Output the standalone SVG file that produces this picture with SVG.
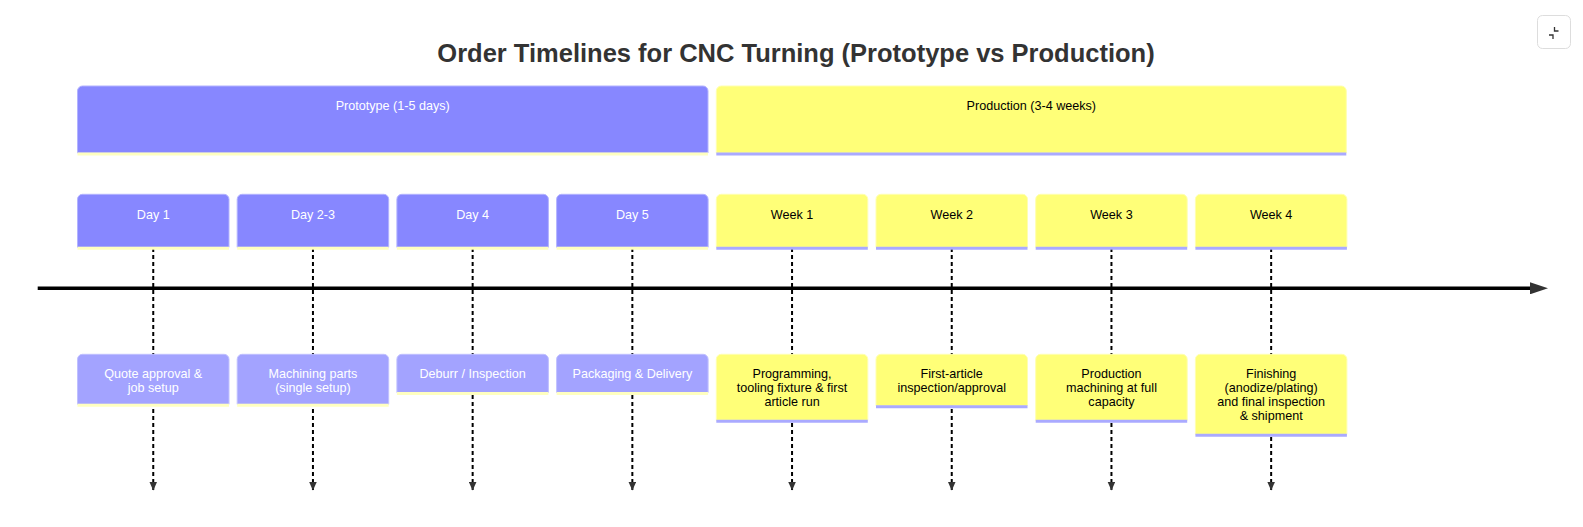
<svg xmlns="http://www.w3.org/2000/svg" width="1583" height="527" viewBox="0 0 1583 527">
<style>
  text { font-family: "Liberation Sans", Arial, sans-serif; font-size: 12.6px; text-anchor: middle; }
  .title { font-size: 25.5px; font-weight: bold; fill: #333333; }
  .s0 { fill: #8787ff; stroke: #b3b3ff; stroke-width: 1; }
  .s0e { fill: #a3a3ff; stroke: #c0c0ff; stroke-width: 1; }
  .s1 { fill: #ffff78; stroke: #ffffb0; stroke-width: 1; }
  .l0 { stroke: #ffffc0; stroke-width: 3; }
  .l1 { stroke: #aaaaff; stroke-width: 3; }
  .t0 { fill: #ffffff; }
  .t1 { fill: #000000; }
  .dash { stroke: #000000; stroke-width: 2; stroke-dasharray: 4 3; fill: none; }
  .axis { stroke: #000000; stroke-width: 3.6; fill: none; }
</style>
<defs>
  <marker id="axisArrow" markerWidth="18" markerHeight="12" refX="1" refY="6" orient="auto" markerUnits="userSpaceOnUse" viewBox="0 0 18 12">
    <path d="M0 0 L18 6 L0 12 Z" fill="#333333"/>
  </marker>
  <marker id="dashArrow" markerWidth="9" markerHeight="8" refX="8.5" refY="4" orient="auto" markerUnits="userSpaceOnUse" viewBox="0 0 9 8">
    <path d="M0 0 L9 4 L0 8 Z" fill="#333333"/>
  </marker>
</defs>
<rect x="0" y="0" width="1583" height="527" fill="#ffffff"/>

<text class="title" x="796" y="62">Order Timelines for CNC Turning (Prototype vs Production)</text>

<g id="fullscreen-button">
  <rect x="1537.5" y="15.5" width="33" height="33" rx="5" fill="#ffffff" stroke="#dddddd"/>
  <path d="M1554.5 27 v4 h4 M1549 35 h4 v4" stroke="#333333" stroke-width="1.3" fill="none"/>
</g>

<g id="connectors">
  <line class="axis" x1="37.7" y1="288.3" x2="1531" y2="288.3" marker-end="url(#axisArrow)"/>
  <line class="dash" x1="153.25" y1="248" x2="153.25" y2="490" marker-end="url(#dashArrow)"/>
  <line class="dash" x1="312.95" y1="248" x2="312.95" y2="490" marker-end="url(#dashArrow)"/>
  <line class="dash" x1="472.65" y1="248" x2="472.65" y2="490" marker-end="url(#dashArrow)"/>
  <line class="dash" x1="632.35" y1="248" x2="632.35" y2="490" marker-end="url(#dashArrow)"/>
  <line class="dash" x1="792.05" y1="248" x2="792.05" y2="490" marker-end="url(#dashArrow)"/>
  <line class="dash" x1="951.75" y1="248" x2="951.75" y2="490" marker-end="url(#dashArrow)"/>
  <line class="dash" x1="1111.45" y1="248" x2="1111.45" y2="490" marker-end="url(#dashArrow)"/>
  <line class="dash" x1="1271.15" y1="248" x2="1271.15" y2="490" marker-end="url(#dashArrow)"/>
</g>

<!-- Sections -->
<g id="section-prototype">
  <path class="s0" d="M77.5 153 V91 a5 5 0 0 1 5 -5 H703 a5 5 0 0 1 5 5 V153 Z"/>
  <line class="l0" x1="77.5" y1="154" x2="708" y2="154"/>
  <text class="t0" x="392.75" y="109.5">Prototype (1-5 days)</text>
</g>
<g id="section-production">
  <path class="s1" d="M716.3 153 V91 a5 5 0 0 1 5 -5 H1341.3 a5 5 0 0 1 5 5 V153 Z"/>
  <line class="l1" x1="716.3" y1="154" x2="1346.3" y2="154"/>
  <text class="t1" x="1031.3" y="109.5">Production (3-4 weeks)</text>
</g>

<!-- Periods -->
<g id="period-day1">
  <path class="s0" d="M77.5 247.3 V199.3 a5 5 0 0 1 5 -5 H224 a5 5 0 0 1 5 5 V247.3 Z"/>
  <line class="l0" x1="77.5" y1="248.3" x2="229" y2="248.3"/>
  <text class="t0" x="153.25" y="218.5">Day 1</text>
</g>
<g id="period-day2-3">
  <path class="s0" d="M237.2 247.3 V199.3 a5 5 0 0 1 5 -5 H383.7 a5 5 0 0 1 5 5 V247.3 Z"/>
  <line class="l0" x1="237.2" y1="248.3" x2="388.7" y2="248.3"/>
  <text class="t0" x="312.95" y="218.5">Day 2-3</text>
</g>
<g id="period-day4">
  <path class="s0" d="M396.9 247.3 V199.3 a5 5 0 0 1 5 -5 H543.4 a5 5 0 0 1 5 5 V247.3 Z"/>
  <line class="l0" x1="396.9" y1="248.3" x2="548.4" y2="248.3"/>
  <text class="t0" x="472.65" y="218.5">Day 4</text>
</g>
<g id="period-day5">
  <path class="s0" d="M556.6 247.3 V199.3 a5 5 0 0 1 5 -5 H703.1 a5 5 0 0 1 5 5 V247.3 Z"/>
  <line class="l0" x1="556.6" y1="248.3" x2="708.1" y2="248.3"/>
  <text class="t0" x="632.35" y="218.5">Day 5</text>
</g>
<g id="period-week1">
  <path class="s1" d="M716.3 247.3 V199.3 a5 5 0 0 1 5 -5 H862.8 a5 5 0 0 1 5 5 V247.3 Z"/>
  <line class="l1" x1="716.3" y1="248.3" x2="867.8" y2="248.3"/>
  <text class="t1" x="792.05" y="218.5">Week 1</text>
</g>
<g id="period-week2">
  <path class="s1" d="M876 247.3 V199.3 a5 5 0 0 1 5 -5 H1022.5 a5 5 0 0 1 5 5 V247.3 Z"/>
  <line class="l1" x1="876" y1="248.3" x2="1027.5" y2="248.3"/>
  <text class="t1" x="951.75" y="218.5">Week 2</text>
</g>
<g id="period-week3">
  <path class="s1" d="M1035.7 247.3 V199.3 a5 5 0 0 1 5 -5 H1182.2 a5 5 0 0 1 5 5 V247.3 Z"/>
  <line class="l1" x1="1035.7" y1="248.3" x2="1187.2" y2="248.3"/>
  <text class="t1" x="1111.45" y="218.5">Week 3</text>
</g>
<g id="period-week4">
  <path class="s1" d="M1195.4 247.3 V199.3 a5 5 0 0 1 5 -5 H1341.9 a5 5 0 0 1 5 5 V247.3 Z"/>
  <line class="l1" x1="1195.4" y1="248.3" x2="1346.9" y2="248.3"/>
  <text class="t1" x="1271.15" y="218.5">Week 4</text>
</g>

<!-- Events -->
<g id="event-quote">
  <path class="s0e" d="M77.5 404.3 V359.3 a5 5 0 0 1 5 -5 H224 a5 5 0 0 1 5 5 V404.3 Z"/>
  <line class="l0" x1="77.5" y1="405.3" x2="229" y2="405.3"/>
  <text class="t0" x="153.25" y="378"><tspan x="153.25">Quote approval &amp;</tspan><tspan x="153.25" dy="14">job setup</tspan></text>
</g>
<g id="event-machining">
  <path class="s0e" d="M237.2 404.3 V359.3 a5 5 0 0 1 5 -5 H383.7 a5 5 0 0 1 5 5 V404.3 Z"/>
  <line class="l0" x1="237.2" y1="405.3" x2="388.7" y2="405.3"/>
  <text class="t0" x="312.95" y="378"><tspan x="312.95">Machining parts</tspan><tspan x="312.95" dy="14">(single setup)</tspan></text>
</g>
<g id="event-deburr">
  <path class="s0e" d="M396.9 392.5 V359.3 a5 5 0 0 1 5 -5 H543.4 a5 5 0 0 1 5 5 V392.5 Z"/>
  <line class="l0" x1="396.9" y1="393.5" x2="548.4" y2="393.5"/>
  <text class="t0" x="472.65" y="378">Deburr / Inspection</text>
</g>
<g id="event-packaging">
  <path class="s0e" d="M556.6 392.5 V359.3 a5 5 0 0 1 5 -5 H703.1 a5 5 0 0 1 5 5 V392.5 Z"/>
  <line class="l0" x1="556.6" y1="393.5" x2="708.1" y2="393.5"/>
  <text class="t0" x="632.35" y="378">Packaging &amp; Delivery</text>
</g>
<g id="event-programming">
  <path class="s1" d="M716.3 420.3 V359.3 a5 5 0 0 1 5 -5 H862.8 a5 5 0 0 1 5 5 V420.3 Z"/>
  <line class="l1" x1="716.3" y1="421.3" x2="867.8" y2="421.3"/>
  <text class="t1" x="792.05" y="378"><tspan x="792.05">Programming,</tspan><tspan x="792.05" dy="14">tooling fixture &amp; first</tspan><tspan x="792.05" dy="14">article run</tspan></text>
</g>
<g id="event-first-article">
  <path class="s1" d="M876 405.8 V359.3 a5 5 0 0 1 5 -5 H1022.5 a5 5 0 0 1 5 5 V405.8 Z"/>
  <line class="l1" x1="876" y1="406.8" x2="1027.5" y2="406.8"/>
  <text class="t1" x="951.75" y="378"><tspan x="951.75">First-article</tspan><tspan x="951.75" dy="14">inspection/approval</tspan></text>
</g>
<g id="event-production-machining">
  <path class="s1" d="M1035.7 420.3 V359.3 a5 5 0 0 1 5 -5 H1182.2 a5 5 0 0 1 5 5 V420.3 Z"/>
  <line class="l1" x1="1035.7" y1="421.3" x2="1187.2" y2="421.3"/>
  <text class="t1" x="1111.45" y="378"><tspan x="1111.45">Production</tspan><tspan x="1111.45" dy="14">machining at full</tspan><tspan x="1111.45" dy="14">capacity</tspan></text>
</g>
<g id="event-finishing">
  <path class="s1" d="M1195.4 434.3 V359.3 a5 5 0 0 1 5 -5 H1341.9 a5 5 0 0 1 5 5 V434.3 Z"/>
  <line class="l1" x1="1195.4" y1="435.3" x2="1346.9" y2="435.3"/>
  <text class="t1" x="1271.15" y="378"><tspan x="1271.15">Finishing</tspan><tspan x="1271.15" dy="14">(anodize/plating)</tspan><tspan x="1271.15" dy="14">and final inspection</tspan><tspan x="1271.15" dy="14">&amp; shipment</tspan></text>
</g>
</svg>
